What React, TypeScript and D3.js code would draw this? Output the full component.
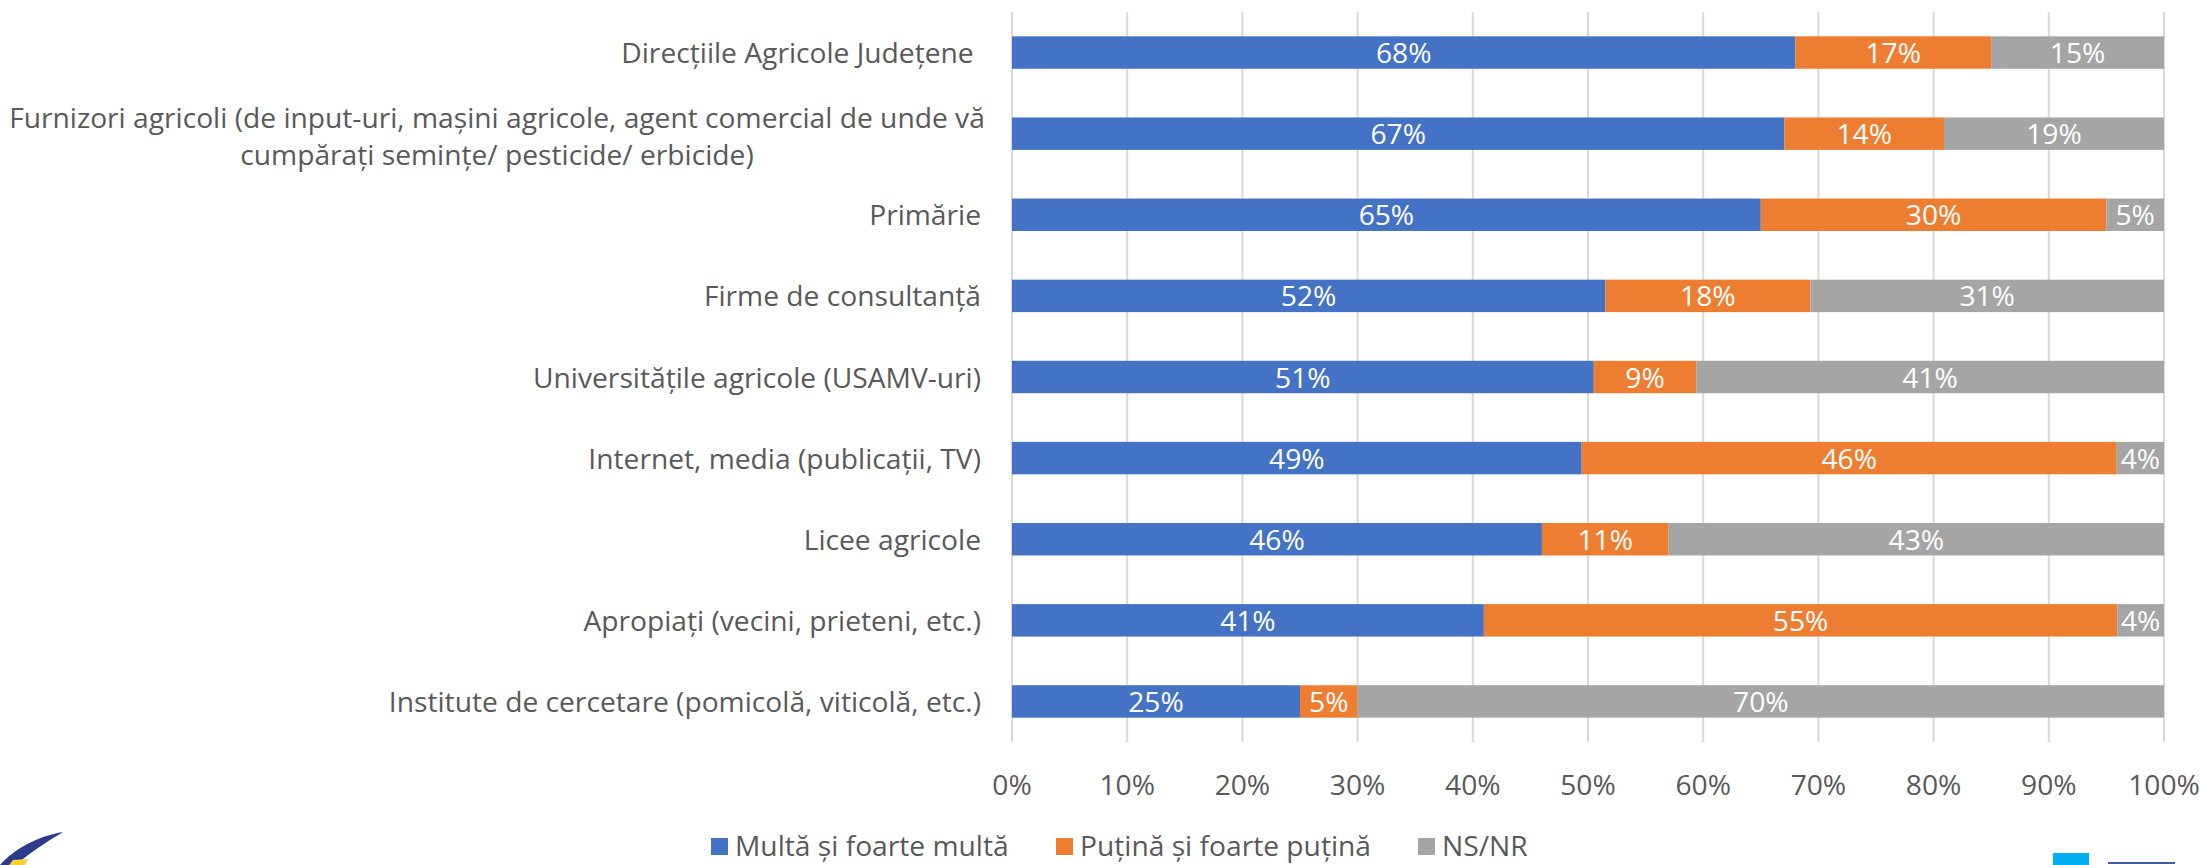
import React from "react";
import * as d3 from "d3";

const categories = [
  "Direcțiile Agricole Județene ",
  "Furnizori agricoli (de input-uri, mașini agricole, agent comercial de unde vă\ncumpărați semințe/ pesticide/ erbicide)",
  "Primărie",
  "Firme de consultanță",
  "Universitățile agricole (USAMV-uri)",
  "Internet, media (publicații, TV)",
  "Licee agricole",
  "Apropiați (vecini, prieteni, etc.)",
  "Institute de cercetare (pomicolă, viticolă, etc.)",
];
const multa = [68, 67.05, 65, 51.5, 50.5, 49.45, 46, 40.96, 25];
const putina = [17, 13.85, 30, 17.8, 8.9, 46.45, 11, 54.98, 5];
const nsnr = [15, 19.1, 5, 30.7, 40.6, 4.1, 43, 4.06, 70];
const seriesNames = ["Multă și foarte multă", "Puțină și foarte puțină", "NS/NR"];
const seriesColors = ["#4472C4", "#ED7D31", "#A5A5A5"];

const W = 2203;
const H = 865;
const FONT = "'Open Sans', sans-serif";
const FS = 28.2;
const TXT = "#595959";

export default function App() {
  const x = d3.scaleLinear().domain([0, 100]).range([1012, 2164]);
  const y = d3.scaleBand<string>().domain(categories).range([12, 742]).paddingInner(0.6).paddingOuter(0.3);
  const series = [multa, putina, nsnr];
  const ticks = x.ticks(10);

  const legendX = [711, 1056, 1418];

  return (
    <svg width={W} height={H} style={{ position: "absolute", left: 0, top: 0, background: "#fff" }} fontFamily={FONT}>
      {ticks.map((t) => (
        <line key={t} x1={x(t)} x2={x(t)} y1={12} y2={742} stroke="#D9D9D9" strokeWidth={2} />
      ))}
      {categories.map((c, i) => {
        let acc = 0;
        return (
          <g key={c}>
            {series.map((s, k) => {
              const v = s[i];
              const x0 = x(acc);
              acc += v;
              const x1 = x(acc);
              const cy = (y(c) as number) + y.bandwidth() / 2;
              return (
                <g key={k}>
                  <rect x={x0} y={y(c)} width={x1 - x0} height={y.bandwidth()} fill={seriesColors[k]} />
                  <text x={(x0 + x1) / 2} y={cy + 10.5} textAnchor="middle" fill="#fff" fontSize={FS}>
                    {Math.round(v) + "%"}
                  </text>
                </g>
              );
            })}
          </g>
        );
      })}
      {categories.map((c) => {
        const cy = (y(c) as number) + y.bandwidth() / 2;
        const lines = c.split("\n");
        if (lines.length === 1) {
          return (
            <text key={c} x={981} y={cy + 10.5} textAnchor="end" fill={TXT} fontSize={FS} style={{ whiteSpace: "pre" }}>
              {c}
            </text>
          );
        }
        return (
          <text key={c} x={497} y={cy - 6} textAnchor="middle" fill={TXT} fontSize={FS}>
            {lines.map((l, j) => (
              <tspan key={j} x={497} dy={j === 0 ? 0 : 37}>
                {l}
              </tspan>
            ))}
          </text>
        );
      })}
      {ticks.map((t) => (
        <text key={t} x={x(t)} y={795} textAnchor="middle" fill={TXT} fontSize={FS}>
          {t + "%"}
        </text>
      ))}
      {seriesNames.map((n, k) => (
        <g key={n}>
          <rect x={legendX[k]} y={838} width={17} height={17} fill={seriesColors[k]} />
          <text x={legendX[k] + 24} y={856} fill={TXT} fontSize={FS}>
            {n}
          </text>
        </g>
      ))}
      <path d="M0,865 C14,849 38,836 63,832 C46,842 27,855 16,865 Z" fill="#2E3A8C" />
      <path d="M9,865 L13,860 L28,859 L25,865 Z" fill="#F9D335" />
      <rect x={2053} y={853} width={36} height={12} fill="#00B0F0" />
      <rect x={2108} y={862} width={67} height={2} fill="#3B5BA9" />
    </svg>
  );
}
